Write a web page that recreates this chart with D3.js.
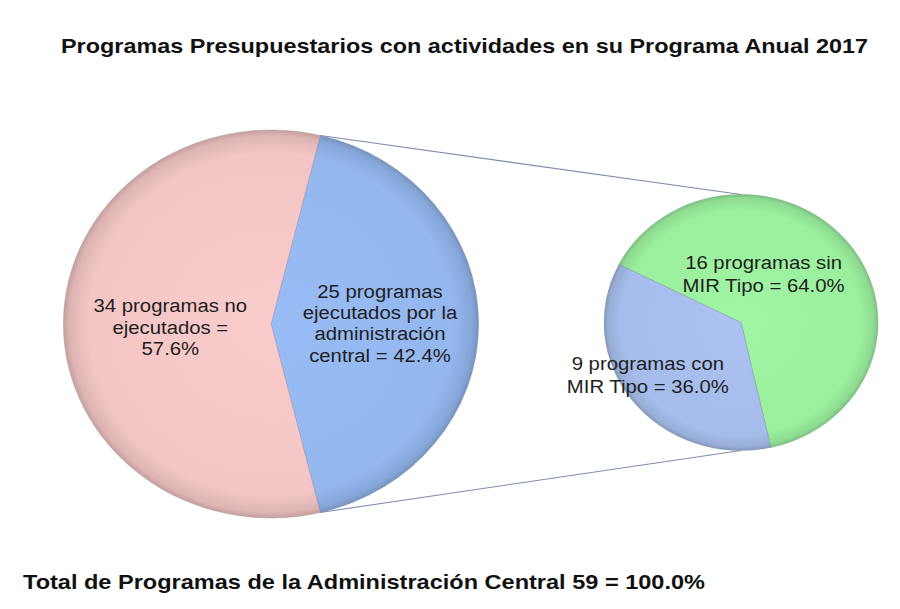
<!DOCTYPE html>
<html>
<head>
<meta charset="utf-8">
<script src="https://cdn.jsdelivr.net/npm/d3@7"></script>
<style>
html,body{margin:0;padding:0;background:#fff;}
svg{display:block;}
</style>
</head>
<body>
<div id="chart"></div>
<script>
// ---------- data ----------
const titleText = "Programas Presupuestarios con actividades en su Programa Anual 2017";
const totalText = "Total de Programas de la Administración Central";
const mainCategories = ["ejecutados por la administración central", "no ejecutados"];
const mainValues = [25, 34];
const subCategories = ["sin MIR Tipo", "con MIR Tipo"];
const subValues = [16, 9];

// ---------- layout / style ----------
const W = 900, H = 609;
const stretch = 1.07;
const mainPie = {cx: 271, cy: 324, r: 194};
const subPie  = {cx: 741, cy: 322.5, r: 128};
const subStartDeg = -63;
const mainColors = ["#94b7ee", "#f3c6c5"];
const subColors  = ["#9bef9e", "#a6bdeb"];
const fontFam = "'Liberation Sans', Arial, Helvetica, sans-serif";
const narrowFam = "'Liberation Sans Narrow', 'Arial Narrow', 'Liberation Sans', Arial, sans-serif";

const total = d3.sum(mainValues);
const subTotal = d3.sum(subValues);
const pct = (v, t) => (v / t * 100).toFixed(1) + "%";

const mainLabelLines = [
  [`${mainValues[0]} programas`, "ejecutados por la", "administración", `central = ${pct(mainValues[0], total)}`],
  [`${mainValues[1]} programas no`, "ejecutados =", pct(mainValues[1], total)]
];
const subLabelLines = [
  [`${subValues[0]} programas sin`, `MIR Tipo = ${pct(subValues[0], subTotal)}`],
  [`${subValues[1]} programas con`, `MIR Tipo = ${pct(subValues[1], subTotal)}`]
];
// label anchors (relative to pie centre, in units of radius; x before stretch)
const mainLabelPos = [{dx: 0.525, dy: -0.005, lh: 21.2}, {dx: -0.485, dy: 0.015, lh: 21.5}];
const subLabelPos  = [{dx: 0.165, dy: -0.38, lh: 23}, {dx: -0.68, dy: 0.41, lh: 23}];

const svg = d3.select("#chart").append("svg")
  .attr("width", W).attr("height", H).attr("viewBox", `0 0 ${W} ${H}`);

svg.append("rect").attr("width", W).attr("height", H).attr("fill", "#fff");

const defs = svg.append("defs");
function gradient(id, color, r) {
  const g = defs.append("radialGradient").attr("id", id)
    .attr("gradientUnits", "userSpaceOnUse")
    .attr("cx", 0).attr("cy", 0).attr("r", r);
  const c = d3.color(color);
  g.append("stop").attr("offset", "0%").attr("stop-color", c.brighter(0.08));
  g.append("stop").attr("offset", "88%").attr("stop-color", color);
  g.append("stop").attr("offset", "97%").attr("stop-color", c.darker(0.25));
  g.append("stop").attr("offset", "100%").attr("stop-color", c.darker(0.6));
}
mainColors.forEach((c, i) => gradient("gm" + i, c, mainPie.r));
subColors.forEach((c, i) => gradient("gs" + i, c, subPie.r));

// ---------- main pie ----------
const mainShare = mainValues[0] / total;
const mainStart = Math.PI / 2 - mainShare * Math.PI;
const mainArcs = d3.pie().sort(null)
  .startAngle(mainStart).endAngle(mainStart + 2 * Math.PI)(mainValues);
const mainArc = d3.arc().innerRadius(0).outerRadius(mainPie.r);

const gMain = svg.append("g")
  .attr("transform", `translate(${mainPie.cx},${mainPie.cy}) scale(${stretch},1)`);
gMain.selectAll("path").data(mainArcs).join("path")
  .attr("d", mainArc)
  .attr("fill", (d, i) => `url(#gm${i})`)
  .attr("stroke", (d, i) => d3.color(mainColors[i]).darker(0.9))
  .attr("stroke-opacity", 0.45)
  .attr("stroke-width", 1)
  .attr("vector-effect", "non-scaling-stroke");

// ---------- sub pie ----------
const subStart = subStartDeg * Math.PI / 180;
const subArcs = d3.pie().sort(null)
  .startAngle(subStart).endAngle(subStart + 2 * Math.PI)(subValues);
const subArc = d3.arc().innerRadius(0).outerRadius(subPie.r);
const gSub = svg.append("g")
  .attr("transform", `translate(${subPie.cx},${subPie.cy}) scale(${stretch},1)`);
gSub.selectAll("path").data(subArcs).join("path")
  .attr("d", subArc)
  .attr("fill", (d, i) => `url(#gs${i})`)
  .attr("stroke", (d, i) => d3.color(subColors[i]).darker(0.9))
  .attr("stroke-opacity", 0.45)
  .attr("stroke-width", 1)
  .attr("vector-effect", "non-scaling-stroke");

// ---------- connector lines ----------
const pt = (p, a) => [p.cx + stretch * p.r * Math.sin(a), p.cy - p.r * Math.cos(a)];
const a0 = mainArcs[0].startAngle, a1 = mainArcs[0].endAngle;
const lines = [
  [pt(mainPie, a0), [subPie.cx, subPie.cy - subPie.r]],
  [pt(mainPie, a1), [subPie.cx, subPie.cy + subPie.r]]
];
svg.selectAll("line.conn").data(lines).join("line")
  .attr("class", "conn")
  .attr("x1", d => d[0][0]).attr("y1", d => d[0][1])
  .attr("x2", d => d[1][0]).attr("y2", d => d[1][1])
  .attr("stroke", "#7d8fae").attr("stroke-width", 1.1);

// ---------- labels ----------
function drawLabel(pie, pos, linesArr) {
  const x = pie.cx + stretch * pie.r * pos.dx;
  const y = pie.cy + pie.r * pos.dy;
  const n = linesArr.length;
  const g = svg.append("g").attr("transform", `translate(${x},${y}) scale(${stretch},1)`);
  const t = g.append("text")
    .attr("text-anchor", "middle")
    .attr("font-family", fontFam)
    .attr("font-size", 19)
    .attr("fill", "#1e1e1e");
  linesArr.forEach((s, i) => {
    t.append("tspan").attr("x", 0)
      .attr("y", (i - (n - 1) / 2) * pos.lh + 6.8)
      .text(s);
  });
}
mainLabelLines.forEach((l, i) => drawLabel(mainPie, mainLabelPos[i], l));
subLabelLines.forEach((l, i) => drawLabel(subPie, subLabelPos[i], l));

// ---------- title & total ----------
svg.append("text")
  .attr("x", 61).attr("y", 53)
  .attr("font-family", narrowFam).attr("font-weight", "bold")
  .attr("font-size", 21).attr("fill", "#111")
  .attr("textLength", 807).attr("lengthAdjust", "spacingAndGlyphs")
  .text(titleText);

svg.append("text")
  .attr("x", 23).attr("y", 589)
  .attr("font-family", narrowFam).attr("font-weight", "bold")
  .attr("font-size", 21).attr("fill", "#111")
  .attr("textLength", 682).attr("lengthAdjust", "spacingAndGlyphs")
  .text(`${totalText} ${total} = ${pct(total, total).replace(".0%", ".0%")}`);
</script>
</body>
</html>
